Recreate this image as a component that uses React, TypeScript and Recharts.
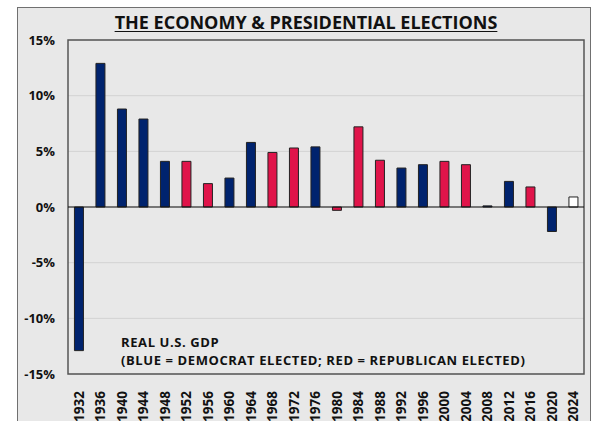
import { BarChart, Bar, XAxis, YAxis, CartesianGrid, ReferenceLine, ReferenceArea, Cell } from 'recharts';

const years = ['1932', '1936', '1940', '1944', '1948', '1952', '1956', '1960', '1964', '1968', '1972', '1976',
  '1980', '1984', '1988', '1992', '1996', '2000', '2004', '2008', '2012', '2016', '2020', '2024'];

// real GDP growth, election year (%)
const gdp = [-12.9, 12.9, 8.8, 7.9, 4.1, 4.1, 2.1, 2.6, 5.8, 4.9, 5.3, 5.4,
  -0.3, 7.2, 4.2, 3.5, 3.8, 4.1, 3.8, 0.1, 2.3, 1.8, -2.2, 0.9];

// D = democrat elected, R = republican elected, U = not decided yet
const party = ['D', 'D', 'D', 'D', 'D', 'R', 'R', 'D', 'D', 'R', 'R', 'D',
  'R', 'R', 'R', 'D', 'D', 'R', 'R', 'D', 'D', 'R', 'D', 'U'];

const yTicks = [-15, -10, -5, 0, 5, 10, 15];

const partyColors: Record<string, string> = { D: '#00236e', R: '#e0144a', U: '#ffffff' };

const data = years.map((year, i) => ({ year, gdp: gdp[i], party: party[i] }));

const FONT = "'Open Sans', sans-serif";

const noteStyle = {
  position: 'absolute' as const,
  left: 121,
  fontFamily: FONT,
  fontWeight: 700,
  fontSize: 13,
  letterSpacing: 0.6,
  lineHeight: '14px',
  color: '#111',
  whiteSpace: 'nowrap' as const,
};

const YearTick = (props: any) => {
  const { x, y, payload } = props;
  return (
    <text
      x={0}
      y={0}
      dy='0.36em'
      textAnchor='end'
      transform={`translate(${x},${y + 9}) rotate(-90)`}
      fill='#111'
      fontSize={13.5}
      fontWeight={700}
      fontFamily={FONT}
    >
      {payload.value}
    </text>
  );
};

export default function App() {
  return (
    <div style={{ position: 'absolute', left: 0, top: 0, width: 596, height: 421, background: '#fff', overflow: 'hidden' }}>
      <div
        style={{
          position: 'absolute',
          left: 17,
          top: 7,
          width: 572,
          height: 430,
          background: '#e8e8e8',
          border: '1.5px solid #707070',
        }}
      />
      <div
        style={{
          position: 'absolute',
          left: 0,
          width: 612,
          top: 10,
          textAlign: 'center',
          fontFamily: FONT,
          fontWeight: 700,
          fontSize: 18,
          color: '#111',
          textDecoration: 'underline',
          textUnderlineOffset: 2,
        }}
      >
        THE ECONOMY &amp; PRESIDENTIAL ELECTIONS
      </div>
      <div style={{ position: 'absolute', left: 0, top: 0 }}>
        <BarChart
          width={596}
          height={421}
          data={data}
          margin={{ top: 40, right: 12, bottom: 0, left: 18 }}
          barCategoryGap='30%'
        >
          <CartesianGrid vertical={false} stroke='#d2d2d2' />
          <XAxis
            dataKey='year'
            interval={0}
            tickLine={false}
            axisLine={false}
            height={47}
            tick={<YearTick />}
          />
          <YAxis
            width={50}
            domain={[-15, 15]}
            ticks={yTicks}
            tickFormatter={(v: number) => `${v}%`}
            axisLine={false}
            tickLine={false}
            tickSize={0}
            tickMargin={13}
            tick={{ fill: '#111', fontSize: 13, fontWeight: 700, fontFamily: FONT }}
          />
          <Bar dataKey='gdp' stroke='#222' strokeWidth={1} isAnimationActive={false}>
            {data.map((d) => (
              <Cell key={d.year} fill={partyColors[d.party]} />
            ))}
          </Bar>
          <ReferenceLine y={0} stroke='#111' strokeWidth={1.2} />
          <ReferenceArea y1={-15} y2={15} fill='none' stroke='#555' strokeWidth={1.5} />
        </BarChart>
      </div>
      <div style={{ ...noteStyle, top: 335 }}>REAL U.S. GDP</div>
      <div style={{ ...noteStyle, top: 353 }}>(BLUE = DEMOCRAT ELECTED; RED = REPUBLICAN ELECTED)</div>
    </div>
  );
}
